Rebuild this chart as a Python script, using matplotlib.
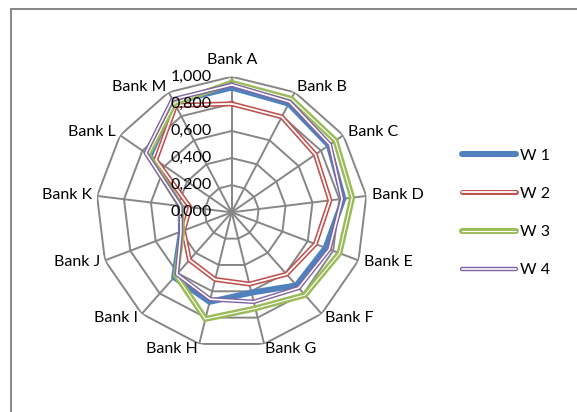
import numpy as np
import matplotlib.pyplot as plt
from matplotlib.lines import Line2D
from matplotlib.patches import Rectangle
import matplotlib.transforms as mtransforms

banks = ['Bank A', 'Bank B', 'Bank C', 'Bank D', 'Bank E', 'Bank F', 'Bank G',
         'Bank H', 'Bank I', 'Bank J', 'Bank K', 'Bank L', 'Bank M']
series_names = ['W 1', 'W 2', 'W 3', 'W 4']
w1 = [0.920, 0.905, 0.870, 0.830, 0.740, 0.720, 0.610, 0.680, 0.640, 0.400, 0.380, 0.735, 0.920]
w2 = [0.800, 0.795, 0.750, 0.730, 0.660, 0.610, 0.545, 0.510, 0.470, 0.380, 0.310, 0.680, 0.890]
w3 = [0.955, 0.945, 0.930, 0.895, 0.850, 0.815, 0.730, 0.810, 0.620, 0.390, 0.380, 0.750, 0.910]
w4 = [0.940, 0.920, 0.880, 0.820, 0.770, 0.745, 0.680, 0.660, 0.610, 0.400, 0.380, 0.770, 0.940]
rings = [0.0, 0.2, 0.4, 0.6, 0.8, 1.0]
ring_labels = ['0,000', '0,200', '0,400', '0,600', '0,800', '1,000']

plt.rcParams['font.family'] = ['Lato', 'DejaVu Sans']
grid_col = '#868686'
fs = 11.5

fig = plt.figure(figsize=(5.77, 4.12), dpi=100)
# chart area border (runs off the right and bottom edges)
fig.patches.append(Rectangle((11 / 577, -0.2), 1.3, 1.2 - 9 / 412, transform=fig.transFigure,
                             fill=False, ec=grid_col, lw=1.4))

ax = fig.add_axes([96.1 / 577, 64.1 / 412, 271.2 / 577, 271.2 / 412], projection='polar')
ax.set_theta_offset(np.pi / 2)
ax.set_theta_direction(-1)
ax.set_ylim(0, 1)
ax.axis('off')

n = len(banks)
theta = np.arange(n) * 2 * np.pi / n
tc = np.append(theta, theta[0])

def closed(v):
    return np.append(v, v[0])

# polygon grid
for r in rings[1:]:
    ax.plot(tc, [r] * (n + 1), color=grid_col, lw=1.4, zorder=1)
for t in theta:
    ax.plot([t, t], [0, 1], color=grid_col, lw=1.4, zorder=1)

# series: (colour, outer width, inner white width)
styles = [('#4F81BD', 4.3, 0), ('#C0504D', 3.6, 1.3), ('#9BBB59', 4.3, 0.8), ('#8064A2', 3.2, 1.2)]
handles = []
for vals, (col, lw, inner) in zip([w1, w2, w3, w4], styles):
    ax.plot(tc, closed(vals), color=col, lw=lw, solid_joinstyle='round', zorder=3)
    h = [Line2D([], [], color=col, lw=lw, solid_capstyle='round')]
    if inner:
        ax.plot(tc, closed(vals), color='white', lw=inner, solid_joinstyle='round', zorder=3)
        h.append(Line2D([], [], color='white', lw=inner, solid_capstyle='round'))
    handles.append(tuple(h))

# axis value labels
trans = mtransforms.offset_copy(ax.transData, fig=fig, x=-20, y=0, units='dots')
for r, lab in zip(rings, ring_labels):
    ax.text(0, r, lab, transform=trans, ha='right', va='center', fontsize=fs, zorder=4)

# category labels
for t, lab in zip(theta, banks):
    s = np.sin(t)
    if abs(s) < 1e-6:
        ax.text(t, 1.12, lab, ha='center', va='center', fontsize=fs)
    else:
        ax.text(t, 1.04, lab, ha='left' if s > 0 else 'right', va='center', fontsize=fs)

fig.legend(handles, series_names, loc='center left', bbox_to_anchor=(462 / 577, 199 / 412),
           frameon=False, fontsize=fs, handlelength=3.4, handletextpad=0.25,
           labelspacing=1.5, borderpad=0, borderaxespad=0)

fig.savefig('out.png', dpi=100)
